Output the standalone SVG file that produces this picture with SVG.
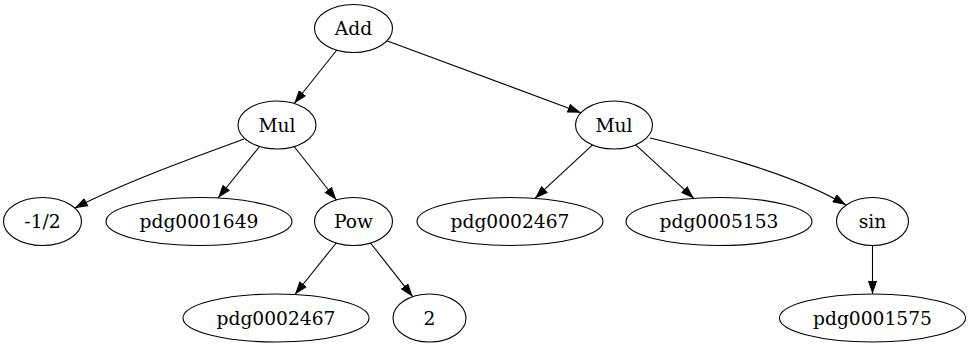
<svg xmlns="http://www.w3.org/2000/svg" width="971" height="347" viewBox="0 0 971 347">
<defs>
<style>
ellipse{fill:none;stroke:#000;stroke-width:1.1}
text{font-family:"DejaVu Serif","Liberation Serif",serif;font-size:18.67px;text-anchor:middle;fill:#000}
.e path{fill:none;stroke:#000;stroke-width:1.1}
</style>
<marker id="ah" viewBox="0 0 13.4 9.4" refX="13.4" refY="4.7" markerWidth="13.4" markerHeight="9.4" markerUnits="userSpaceOnUse" orient="auto">
<path d="M0,0 L13.4,4.7 L0,9.4 z" fill="#000"/>
</marker>
</defs>
<rect width="971" height="347" fill="#fff"/>
<g class="e" id="edges">
<path d="M336.8,50 L294.2,103.5" marker-end="url(#ah)"/>
<path d="M387.4,40.9 L580.9,112.7" marker-end="url(#ah)"/>
<path d="M244,139 C195,157 125,182 74.5,208.3" marker-end="url(#ah)"/>
<path d="M259.6,146.5 L218,198" marker-end="url(#ah)"/>
<path d="M294.1,146.5 L336.4,200" marker-end="url(#ah)"/>
<path d="M592.5,144.9 L534.9,198.4" marker-end="url(#ah)"/>
<path d="M635.7,144.9 L693.9,198.4" marker-end="url(#ah)"/>
<path d="M650,138 C700,150 790,172 846,205" marker-end="url(#ah)"/>
<path d="M336.2,243 L294.9,294.5" marker-end="url(#ah)"/>
<path d="M370.5,243 L412.7,296.7" marker-end="url(#ah)"/>
<path d="M872.5,245.5 L872.5,294" marker-end="url(#ah)"/>
</g>
<g id="add"><ellipse cx="353.5" cy="28.5" rx="39" ry="24"/><text x="353.5" y="35">Add</text></g>
<g id="mul1"><ellipse cx="277" cy="125" rx="39" ry="24"/><text x="277" y="131.5">Mul</text></g>
<g id="mul2"><ellipse cx="614" cy="125" rx="38.5" ry="24"/><text x="614" y="131.5">Mul</text></g>
<g id="neghalf"><ellipse cx="42.5" cy="221.5" rx="39" ry="24"/><text x="42.5" y="228">-1/2</text></g>
<g id="pdg0001649"><ellipse cx="199" cy="221.5" rx="93" ry="24"/><text x="199" y="228">pdg0001649</text></g>
<g id="pow"><ellipse cx="353.5" cy="221.5" rx="39" ry="24"/><text x="353.5" y="228">Pow</text></g>
<g id="pdg0002467a"><ellipse cx="510" cy="221.5" rx="93" ry="24"/><text x="510" y="228">pdg0002467</text></g>
<g id="pdg0005153"><ellipse cx="719" cy="221.5" rx="93" ry="24"/><text x="719" y="228">pdg0005153</text></g>
<g id="sin"><ellipse cx="872.5" cy="221.5" rx="36" ry="24"/><text x="872.5" y="228">sin</text></g>
<g id="pdg0002467b"><ellipse cx="276" cy="318" rx="93" ry="24"/><text x="276" y="324.5">pdg0002467</text></g>
<g id="two"><ellipse cx="429.5" cy="318" rx="36.5" ry="24"/><text x="429.5" y="324.5">2</text></g>
<g id="pdg0001575"><ellipse cx="872.5" cy="318" rx="93" ry="24"/><text x="872.5" y="324.5">pdg0001575</text></g>
</svg>
